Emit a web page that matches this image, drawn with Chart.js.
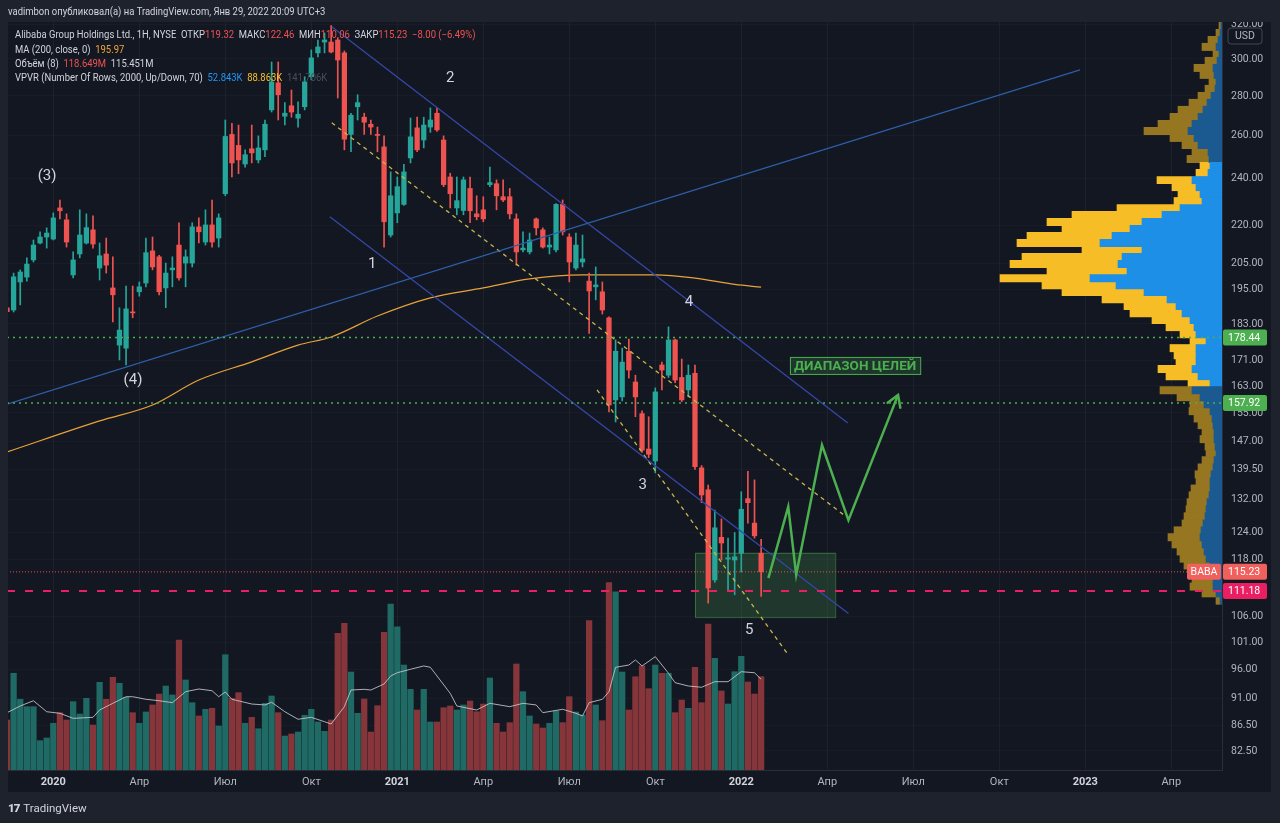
<!DOCTYPE html>
<html>
<head>
<meta charset="utf-8">
<script src="https://cdn.jsdelivr.net/npm/chart.js@4.4.1/dist/chart.umd.min.js"></script>
<style>
  html, body { margin: 0; padding: 0; background: #1e222d; width: 1280px; height: 823px; overflow: hidden; }
  body { font-family: Roboto, "Noto Sans", sans-serif; }
  #wrap { position: relative; width: 1280px; height: 823px; }
  #c { position: absolute; left: 0; top: 0; }
  .txt { position: absolute; white-space: nowrap; color: #d1d4dc; font-size: 10.5px; line-height: 14px;
         transform: scaleX(0.9); transform-origin: 0 0; }
  .r { color: #ef5350; } .o { color: #f0a53c; } .b { color: #2196f3; } .y { color: #fbc02d; } .g { color: #4a4e5a; }
  #logo { position: absolute; left: 8px; top: 801px; color: #d1d4dc; font-size: 11.5px; line-height: 14px; }
  #logo b { font-weight: 900; letter-spacing: -1px; margin-right: 4px; }
</style>
</head>
<body>
<div id="wrap">
  <canvas id="c" width="1280" height="823"></canvas>
  <div class="txt" style="left:8px;top:5px">vadimbon опубликовал(а) на TradingView.com, Янв 29, 2022 20:09 UTC+3</div>
  <div class="txt" id="leg1" style="left:15px;top:28px"></div>
  <div class="txt" id="leg2" style="left:15px;top:43px"></div>
  <div class="txt" id="leg3" style="left:15px;top:57px"></div>
  <div class="txt" id="leg4" style="left:15px;top:71px">VPVR (Number Of Rows, 2000, Up/Down, 70)&nbsp; <span class="b">52.843K</span>&nbsp; <span class="y">88.863K</span>&nbsp; <span class="g">141.706K</span></div>
  <div id="logo"><b>17</b>TradingView</div>
</div>
<script>
// ─── Data (weekly bars, bar 0 = week of 18 Nov 2019) ─────────
var opens = [188.6,187.8,197.9,199.7,206.2,212.8,215.2,214.4,227.2,222.2,
  200.5,208.5,212.8,218.1,203.1,208.5,195.7,175.9,174.9,187.1,
  194.3,197.5,209.7,207.4,195.7,202.4,212.0,205.0,205.0,219.3,
  213.2,220.1,214.8,233.3,260.6,255.3,246.6,253.7,248.5,253.2,
  272.8,286.9,269.6,274.9,268.6,274.4,290.2,303.4,309.6,309.6,
  310.8,303.4,260.6,274.4,269.1,265.6,260.6,254.6,216.0,225.1,
  228.7,249.4,263.8,257.9,264.2,271.1,257.9,240.7,227.2,226.1,
  235.6,224.7,226.4,237.3,237.7,232.0,232.0,222.6,210.1,209.3,
  222.6,218.1,211.2,210.1,228.7,215.2,203.1,205.4,198.2,196.1,
  194.3,185.1,158.8,159.7,173.9,164.2,154.8,144.9,141.7,169.5,
  166.3,177.6,165.6,161.8,166.9,139.9,134.3,113.5,122.9,118.0,
  117.8,119.3,132.1,126.2,119.32];
var highs = [190.0,201.2,202.4,207.0,214.0,217.3,218.9,225.1,230.6,224.7,
  209.3,226.4,224.7,223.9,212.8,214.8,207.4,188.6,196.4,196.4,
  197.9,214.8,215.2,208.0,205.0,207.4,221.0,210.1,221.0,223.0,
  226.4,230.6,224.7,267.7,266.1,265.2,253.2,265.2,259.9,267.7,
  298.3,298.3,276.5,283.1,276.9,290.2,305.1,310.8,314.9,319.3,
  311.9,304.5,271.1,280.6,271.1,267.7,264.2,259.9,243.0,240.7,
  246.5,268.7,269.1,269.1,273.8,273.8,259.9,242.4,240.7,240.7,
  240.7,232.4,232.0,245.2,239.4,239.4,235.6,224.7,217.3,216.8,
  223.0,218.9,215.2,229.1,230.6,216.5,216.8,216.0,201.2,203.5,
  197.9,185.4,177.6,174.9,177.9,166.3,155.6,153.9,162.4,170.4,
  182.0,177.9,171.4,169.5,169.5,140.5,135.5,129.3,127.2,122.7,
  124.0,133.8,139.0,136.8,122.46];
var lows = [185.5,187.1,189.6,198.2,205.4,212.4,210.8,214.0,222.6,211.2,
  199.4,207.0,212.4,210.8,198.6,201.2,183.7,171.1,169.5,185.1,
  192.7,196.1,202.4,193.2,188.6,196.1,198.6,196.1,203.5,212.8,
  212.0,211.2,211.2,232.4,240.7,242.2,245.2,247.1,247.1,250.0,
  271.7,267.7,265.2,269.1,264.2,272.8,288.5,301.1,303.4,303.4,
  278.9,253.2,252.3,267.7,260.6,260.6,252.3,211.2,215.2,221.0,
  228.3,247.1,252.3,254.1,261.6,262.0,236.4,227.2,224.3,224.3,
  221.0,222.2,221.4,236.4,226.4,229.9,222.6,204.2,209.3,208.5,
  216.0,210.8,208.5,209.3,216.0,197.9,202.4,203.5,179.8,191.4,
  186.4,155.3,152.4,158.5,165.4,153.9,144.0,142.6,138.6,161.8,
  165.6,164.0,158.3,159.7,139.5,131.1,108.7,113.0,117.8,111.4,
  110.4,115.2,126.2,122.7,110.06];
var closes = [187.2,199.8,201.6,204.6,212.0,215.2,216.8,223.0,226.0,213.2,
  206.2,216.0,219.0,212.4,207.8,204.2,193.2,180.9,188.2,186.8,
  196.1,209.0,203.5,194.3,201.2,203.1,199.4,207.4,219.3,217.3,
  220.1,213.2,223.0,259.6,247.1,248.5,250.9,251.8,254.1,265.6,
  287.4,280.6,271.1,271.7,270.6,287.4,300.6,306.8,310.8,303.9,
  299.4,258.3,270.1,276.5,266.6,264.2,260.1,221.4,232.4,236.4,
  243.0,259.4,253.2,265.2,267.7,262.8,237.3,233.3,230.3,239.4,
  226.0,223.5,222.6,238.2,232.4,230.6,224.7,209.3,210.8,214.0,
  218.9,211.2,212.0,228.7,217.3,205.4,212.0,206.6,194.6,196.8,
  187.8,157.3,173.9,170.4,167.9,159.7,144.6,143.5,161.2,167.9,
  177.6,164.8,158.8,166.3,140.2,133.0,111.8,125.1,121.6,118.3,
  118.5,129.5,131.1,123.23,115.23];
// weekly volume, millions
var volumes = [63.6,123,90,80.5,80.5,37.3,40.7,59.4,72.9,63.6,
  86.9,71.2,91.2,57.2,111.5,89.9,117.9,110.3,92.5,72.9,
  59.4,73.8,82.7,96.6,106.8,95.4,165.3,114.5,85.6,68.7,
  77.2,78.5,56,146.6,91.2,98.3,59.4,67,52.5,84.8,
  94.1,72.9,43.2,45.8,48.3,69.6,77.2,61,49.2,63.6,
  173.8,186.6,124.6,72.1,90.3,48.3,81.8,175.1,211.1,182.2,
  133.5,102.6,76.3,102.6,61,61,79.2,81.4,76.3,82.7,
  87.7,74.1,83.9,117,59.4,48.3,60.2,134.8,99.6,68.7,
  58.5,53.4,59.4,75,60.2,93.2,73.8,69.9,189.9,82.7,
  62.7,238.2,226.7,124.6,76.3,118.6,132.3,103.4,133.5,123,
  123,72.9,89,78.5,130.6,85.6,185.7,142,100.5,83.9,
  125,144.6,111.9,96.6,118.649];

// MA(200) of close, read at selected bars
var maIdx  = [0,14,22,29,37,44,49,56,64,72,79,87,98,104,110,114];
var maVals = [144.1,152.7,157.3,164.8,170.5,175.9,178.6,185.7,192.1,195.7,199.0,200.5,200.5,199.3,197.0,195.97];

// Volume MA(8), millions
var volMaIdx  = [0,2,4,6,8,10,13,14,16,18,19,21,23,25,27,29,31,32,33,34,37,39,40,42,44,46,48,49,51,52,54,55,57,58,59,61,63,64,67,68,71,73,76,78,80,81,84,86,87,88,90,91,92,94,95,96,98,100,101,103,105,107,109,111,113,114];
var volMaVals = [72.9,81.4,88.1,74.1,72.1,65.7,67,76.3,84.8,93.2,93.2,89.9,88.1,85.6,99.6,103,100.8,93.2,99.2,89.9,83.9,82.7,86.1,74.1,64.5,67,61.4,58.5,80.5,101.7,102.6,101.7,109.4,119.5,123.7,128.1,132.3,130.6,97.5,81.4,76.3,84.8,80.5,84.8,82.7,72.9,77.2,72.1,68.7,85.6,89.9,99.6,130.6,133.5,139.9,132.3,144.1,123,111,106.8,105.2,112.3,112.3,125,123.7,115.451];

// Volume profile rows (price level, up volume, down volume)
var vpPrices = [319.0,314.9,310.8,306.8,302.8,298.9,295.0,291.2,287.4,283.7,
  280.0,276.4,272.8,269.2,265.7,262.3,258.9,255.5,252.2,248.9,
  245.7,242.5,239.3,236.2,233.2,230.1,227.1,224.2,221.3,218.4,
  215.6,212.8,210.0,207.3,204.6,201.9,199.3,196.7,194.2,191.6,
  189.2,186.7,184.3,181.9,179.5,177.2,174.9,172.6,170.4,168.2,
  166.0,163.8,161.7,159.6,157.5,155.5,153.4,151.5,149.5,147.6,
  145.6,143.7,141.9,140.0,138.2,136.4,134.6,132.9,131.2,129.5,
  127.8,126.1,124.5,122.9,121.3,119.7,118.1,116.6,115.1,113.6,
  112.1,110.7,109.2];
var vpUp = [1,2,4,6,3,5,9,8,6,7,
  11,15,19,24,30,34,28,24,14,13,
  12,14,30,26,22,20,42,60,80,92,
  110,122,80,100,104,95,132,106,78,55,
  46,40,32,28,26,16,26,26,26,30,
  24,12,30,22,18,12,10,9,8,8,
  7,6,8,9,11,12,12,13,15,16,
  17,19,21,22,20,18,16,12,10,9,
  9,6,2];
var vpDown = [2,4,10,14,6,12,19,14,7,10,
  13,18,25,28,34,44,24,16,16,22,
  10,12,35,24,22,28,63,90,95,68,
  85,83,60,100,108,80,90,74,82,65,
  52,52,38,28,16,16,26,22,20,34,
  32,22,32,23,14,21,18,15,12,14,
  10,10,12,15,16,14,19,20,20,20,
  21,21,27,32,30,27,26,26,24,21,
  23,14,4];
var vaLow = 163, vaHigh = 246;   // value area (70%)

// Time axis
var timeTickIdx = [7,20,33,46,59,72,85,98,111,124,137,150,163,176];
var timeTickLabels = ['2020','Апр','Июл','Окт','2021','Апр','Июл','Окт','2022','Апр','Июл','Окт','2023','Апр'];
var priceTicks = [320,300,280,260,240,220,205,195,183,171,163,155,147,139.5,132,124,118,106,101,96,91,86.5,82.5];

// Drawings: [bar, price] endpoints
var ascLine = [[0.15,157.6],[162.2,293.9]];
var chanTop = [[49.1,318.5],[127.1,152.1]];
var chanBot = [[48.8,223.5],[127.2,106.6]];
var dashMid = [[49.1,266.3],[126.7,127.9]];
var dashLow = [[89.2,161.8],[118.1,98.7]];
var zigzag  = [[115.1,113.9],[118.1,130.1],[119.3,114.6],[123.2,146.0],[127.2,126.9],[134.7,160.3]];
var targetLevels = [178.44, 157.92];
var lastPrice = 115.23, supportLevel = 111.18;
var boxIdx = [104.0, 125.2], boxPrice = [105.9, 119.4];
var noteText  = ['(3)','(4)','1','2','3','4','5'];
var noteIdx   = [6.05,19.05,55.2,67.0,96.1,103.1,112.2];
var notePrice = [241.2,164.8,204.6,289.6,135.5,190.7,103.4];
var targetLabel = 'ДИАПАЗОН ЦЕЛЕЙ', targetLabelAt = [128.2, 169.2];

// ─── Legend text from data ───────────────────────────
var $ = function(id) { return document.getElementById(id); };
var L = opens.length - 1;
var chg = closes[L] - closes[L - 1];
var U = '\u2212';
$('leg1').innerHTML = 'Alibaba Group Holdings Ltd., 1H, NYSE&nbsp; ОТКР<span class="r">' + opens[L].toFixed(2) +
  '</span>&nbsp; МАКС<span class="r">' + highs[L].toFixed(2) + '</span>&nbsp; МИН<span class="r">' + lows[L].toFixed(2) +
  '</span>&nbsp; ЗАКР<span class="r">' + closes[L].toFixed(2) + '</span>&nbsp; <span class="r">' + U + Math.abs(chg).toFixed(2) +
  ' (' + U + Math.abs(chg / closes[L - 1] * 100).toFixed(2) + '%)</span>';
$('leg2').innerHTML = 'MA (200, close, 0)&nbsp; <span class="o">' + maVals[maVals.length - 1].toFixed(2) + '</span>';
$('leg3').innerHTML = 'Объём (8)&nbsp; <span class="r">' + volumes[L].toFixed(3) + 'M</span>&nbsp; ' + volMaVals[volMaVals.length - 1].toFixed(3) + 'M';

// ─── Build datasets ──────────────────────────────────
var UP = '#26a69a', DN = '#ef5350';
var bodies = [], wicks = [], vols = [], cCol = [], vCol = [];
for (var i = 0; i < opens.length; i++) {
  var up = closes[i] >= opens[i];
  bodies.push({ x: i, y: [opens[i], closes[i]] });
  wicks.push({ x: i, y: [lows[i], highs[i]] });
  vols.push({ x: i, y: volumes[i] });
  cCol.push(up ? UP : DN);
  vCol.push(up ? '#1f6a64' : '#86363a');
}
var vpBlue = [], vpYel = [], vpBlueCol = [], vpYelCol = [];
for (var k = 0; k < vpPrices.length; k++) {
  var inVA = vpPrices[k] >= vaLow && vpPrices[k] <= vaHigh;
  vpBlue.push({ y: vpPrices[k], x: [0, vpUp[k]] });
  vpYel.push({ y: vpPrices[k], x: [vpUp[k], vpUp[k] + vpDown[k]] });
  vpBlueCol.push(inVA ? '#1e8fe6' : '#1b5a91');
  vpYelCol.push(inVA ? '#f7bd26' : '#967621');
}
function pts(arr) { return arr.map(function(p) { return { x: p[0], y: p[1] }; }); }
function hline(v) { return [{ x: 0, y: v }, { x: 190, y: v }]; }
function lineDs(data, color, width, dash, order) {
  return { type: 'line', data: data, borderColor: color, borderWidth: width, borderDash: dash || [],
    pointRadius: 0, tension: 0, fill: false, order: order };
}

// ─── Plugins ─────────────────────────────────────────
var panelBg = {
  id: 'panelBg',
  beforeDraw: function(chart) {
    var c = chart.ctx, a = chart.chartArea;
    c.save();
    c.fillStyle = '#1e222d';
    c.fillRect(0, 0, chart.width, chart.height);
    c.fillStyle = '#131722';
    c.fillRect(a.left, a.top, chart.scales.y.right - a.left, chart.scales.x.bottom - a.top);
    c.restore();
  },
  beforeDatasetsDraw: function(chart) {
    var c = chart.ctx, xs = chart.scales.x, ys = chart.scales.y;
    var x1 = xs.getPixelForValue(boxIdx[0]), x2 = xs.getPixelForValue(boxIdx[1]);
    var y1 = ys.getPixelForValue(boxPrice[1]), y2 = ys.getPixelForValue(boxPrice[0]);
    c.save();
    c.fillStyle = 'rgba(76,175,80,0.22)';
    c.fillRect(x1, y1, x2 - x1, y2 - y1);
    c.strokeStyle = 'rgba(76,175,80,0.5)';
    c.lineWidth = 1;
    c.strokeRect(x1 + 0.5, y1 + 0.5, x2 - x1, y2 - y1);
    c.restore();
  }
};

var drawings = {
  id: 'drawings',
  afterDatasetsDraw: function(chart) {
    var c = chart.ctx, xs = chart.scales.x, ys = chart.scales.y;
    c.save();
    // arrow head on the projected path
    var n = zigzag.length;
    var tx = xs.getPixelForValue(zigzag[n - 1][0]), ty = ys.getPixelForValue(zigzag[n - 1][1]);
    var fx = xs.getPixelForValue(zigzag[n - 2][0]), fy = ys.getPixelForValue(zigzag[n - 2][1]);
    var ang = Math.atan2(ty - fy, tx - fx);
    c.strokeStyle = '#4caf50'; c.lineWidth = 2.5; c.lineCap = 'round';
    c.beginPath();
    c.moveTo(tx - 13 * Math.cos(ang - 0.55), ty - 13 * Math.sin(ang - 0.55));
    c.lineTo(tx, ty);
    c.lineTo(tx - 13 * Math.cos(ang + 0.55), ty - 13 * Math.sin(ang + 0.55));
    c.stroke();
    // wave labels
    c.fillStyle = '#d1d4dc';
    c.font = '15px Roboto, "Noto Sans", sans-serif';
    c.textAlign = 'center'; c.textBaseline = 'middle';
    for (var j = 0; j < noteText.length; j++) {
      c.fillText(noteText[j], xs.getPixelForValue(noteIdx[j]), ys.getPixelForValue(notePrice[j]));
    }
    // target range label
    var lx = xs.getPixelForValue(targetLabelAt[0]), ly = ys.getPixelForValue(targetLabelAt[1]);
    c.font = 'bold 13.5px Roboto, "Noto Sans", sans-serif';
    var w = c.measureText(targetLabel).width + 8;
    c.fillStyle = 'rgba(76,175,80,0.2)';
    c.fillRect(lx - w / 2, ly - 9, w, 18);
    c.strokeStyle = '#4caf50'; c.lineWidth = 1;
    c.strokeRect(lx - w / 2 + 0.5, ly - 8.5, w, 17);
    c.fillStyle = '#4caf50';
    c.fillText(targetLabel, lx, ly + 0.5);
    c.restore();
  },
  afterDraw: function(chart) {
    var c = chart.ctx, ys = chart.scales.y, a = chart.chartArea;
    c.save();
    // the top price label is cut by the panel edge
    c.fillStyle = '#1e222d';
    c.fillRect(a.right, 0, chart.width - a.right, a.top);
    c.font = '10.5px Roboto, "Noto Sans", sans-serif';
    c.textBaseline = 'middle'; c.textAlign = 'left';
    function tag(price, bg) {
      var y = ys.getPixelForValue(price);
      c.fillStyle = bg;
      c.beginPath(); c.roundRect(a.right + 1, y - 8, 44, 16, 2); c.fill();
      c.fillStyle = '#ffffff';
      c.fillText(price.toFixed(2), a.right + 6, y + 0.5);
    }
    tag(targetLevels[0], '#4caf50');
    tag(targetLevels[1], '#4caf50');
    tag(supportLevel, '#e91e63');
    tag(lastPrice, '#f0605d');
    var yb = ys.getPixelForValue(lastPrice);
    c.fillStyle = '#f0605d';
    c.beginPath(); c.roundRect(a.right - 35, yb - 8, 34, 16, 2); c.fill();
    c.fillStyle = '#ffffff'; c.textAlign = 'center';
    c.fillText('BABA', a.right - 18, yb + 0.5);
    // currency badge
    c.fillStyle = '#131722';
    c.beginPath(); c.roundRect(a.right + 6, a.top + 6, 34, 16, 3); c.fill();
    c.strokeStyle = '#434651'; c.lineWidth = 1; c.stroke();
    c.fillStyle = '#b2b5be';
    c.fillText('USD', a.right + 23, a.top + 14.5);
    c.restore();
  }
};

// ─── Chart ───────────────────────────────────────────
Chart.defaults.font.family = 'Roboto, "Noto Sans", sans-serif';
var ctx = $('c').getContext('2d');
new Chart(ctx, {
  type: 'bar',
  data: {
    datasets: [
      lineDs(pts(zigzag), '#4caf50', 2.5, null, 0),
      lineDs(hline(targetLevels[0]), '#4caf50', 1.5, [2, 4], 1),
      lineDs(hline(targetLevels[1]), '#4caf50', 1.5, [2, 4], 1),
      lineDs(hline(supportLevel), '#e91e63', 2, [8, 10], 1),
      lineDs(hline(lastPrice), '#ef5350', 1, [1, 2], 1),
      lineDs(pts(ascLine), '#2d5ea8', 1.2, null, 2),
      lineDs(pts(chanTop), '#3348a8', 1.3, null, 2),
      lineDs(pts(chanBot), '#3348a8', 1.3, null, 2),
      lineDs(pts(dashMid), '#c8b74a', 1.3, [4, 4], 2),
      lineDs(pts(dashLow), '#c8b74a', 1.3, [4, 4], 2),
      { data: bodies, backgroundColor: cCol, barThickness: 4.6, minBarLength: 1, grouped: false, order: 5 },
      { data: wicks, backgroundColor: cCol, barThickness: 1, grouped: false, order: 6 },
      Object.assign(lineDs(maIdx.map(function(v, j) { return { x: v, y: maVals[j] }; }), '#e8a23a', 1.2, null, 7),
        { cubicInterpolationMode: 'monotone' }),
      Object.assign(lineDs(volMaIdx.map(function(v, j) { return { x: v, y: volMaVals[j] }; }), 'rgba(200,200,205,0.85)', 1, null, 8),
        { yAxisID: 'yv' }),
      { data: vols, yAxisID: 'yv', backgroundColor: vCol, barThickness: 5.6, grouped: false, order: 9 },
      { data: vpBlue, indexAxis: 'y', xAxisID: 'xp', backgroundColor: vpBlueCol, barThickness: 7.3, grouped: false, order: 10 },
      { data: vpYel, indexAxis: 'y', xAxisID: 'xp', backgroundColor: vpYelCol, barThickness: 7.3, grouped: false, order: 10 }
    ]
  },
  options: {
    responsive: false, animation: false,
    layout: { padding: { left: 8, top: 22, right: 9, bottom: 31 } },
    plugins: { legend: { display: false }, tooltip: { enabled: false } },
    scales: {
      x: {
        type: 'linear', position: 'bottom', min: 0.1512, max: 183.67, offset: false,
        afterBuildTicks: function(s) { s.ticks = timeTickIdx.map(function(v) { return { value: v }; }); },
        afterFit: function(s) { s.height = 22; },
        grid: { color: 'rgba(255,255,255,0.045)', drawTicks: false, offset: false },
        border: { color: '#2a2e39' },
        ticks: {
          autoSkip: false, maxRotation: 0, padding: 6,
          color: function(c) { return /^\d/.test(timeTickLabels[c.index]) ? '#d1d4dc' : '#b2b5be'; },
          font: function(c) { return { size: 11, weight: /^\d/.test(timeTickLabels[c.index]) ? 'bold' : 'normal' }; },
          callback: function(v) { return timeTickLabels[timeTickIdx.indexOf(v)]; }
        }
      },
      y: {
        type: 'logarithmic', position: 'right', min: 79.62, max: 321.4, offset: false,
        afterBuildTicks: function(s) { s.ticks = priceTicks.map(function(v) { return { value: v }; }); },
        afterFit: function(s) { s.width = 49; },
        grid: { color: 'rgba(255,255,255,0.025)', drawTicks: false, offset: false },
        border: { color: '#2a2e39' },
        ticks: { padding: 9, color: '#b2b5be', font: { size: 10.5 },
          callback: function(v) { return Number(v).toFixed(2); } }
      },
      yv: { type: 'linear', display: false, min: 0, max: 951.2, offset: false },
      xp: { type: 'linear', axis: 'x', display: false, reverse: true, min: 0, max: 1214, offset: false }
    }
  },
  plugins: [panelBg, drawings]
});
</script>
</body>
</html>
